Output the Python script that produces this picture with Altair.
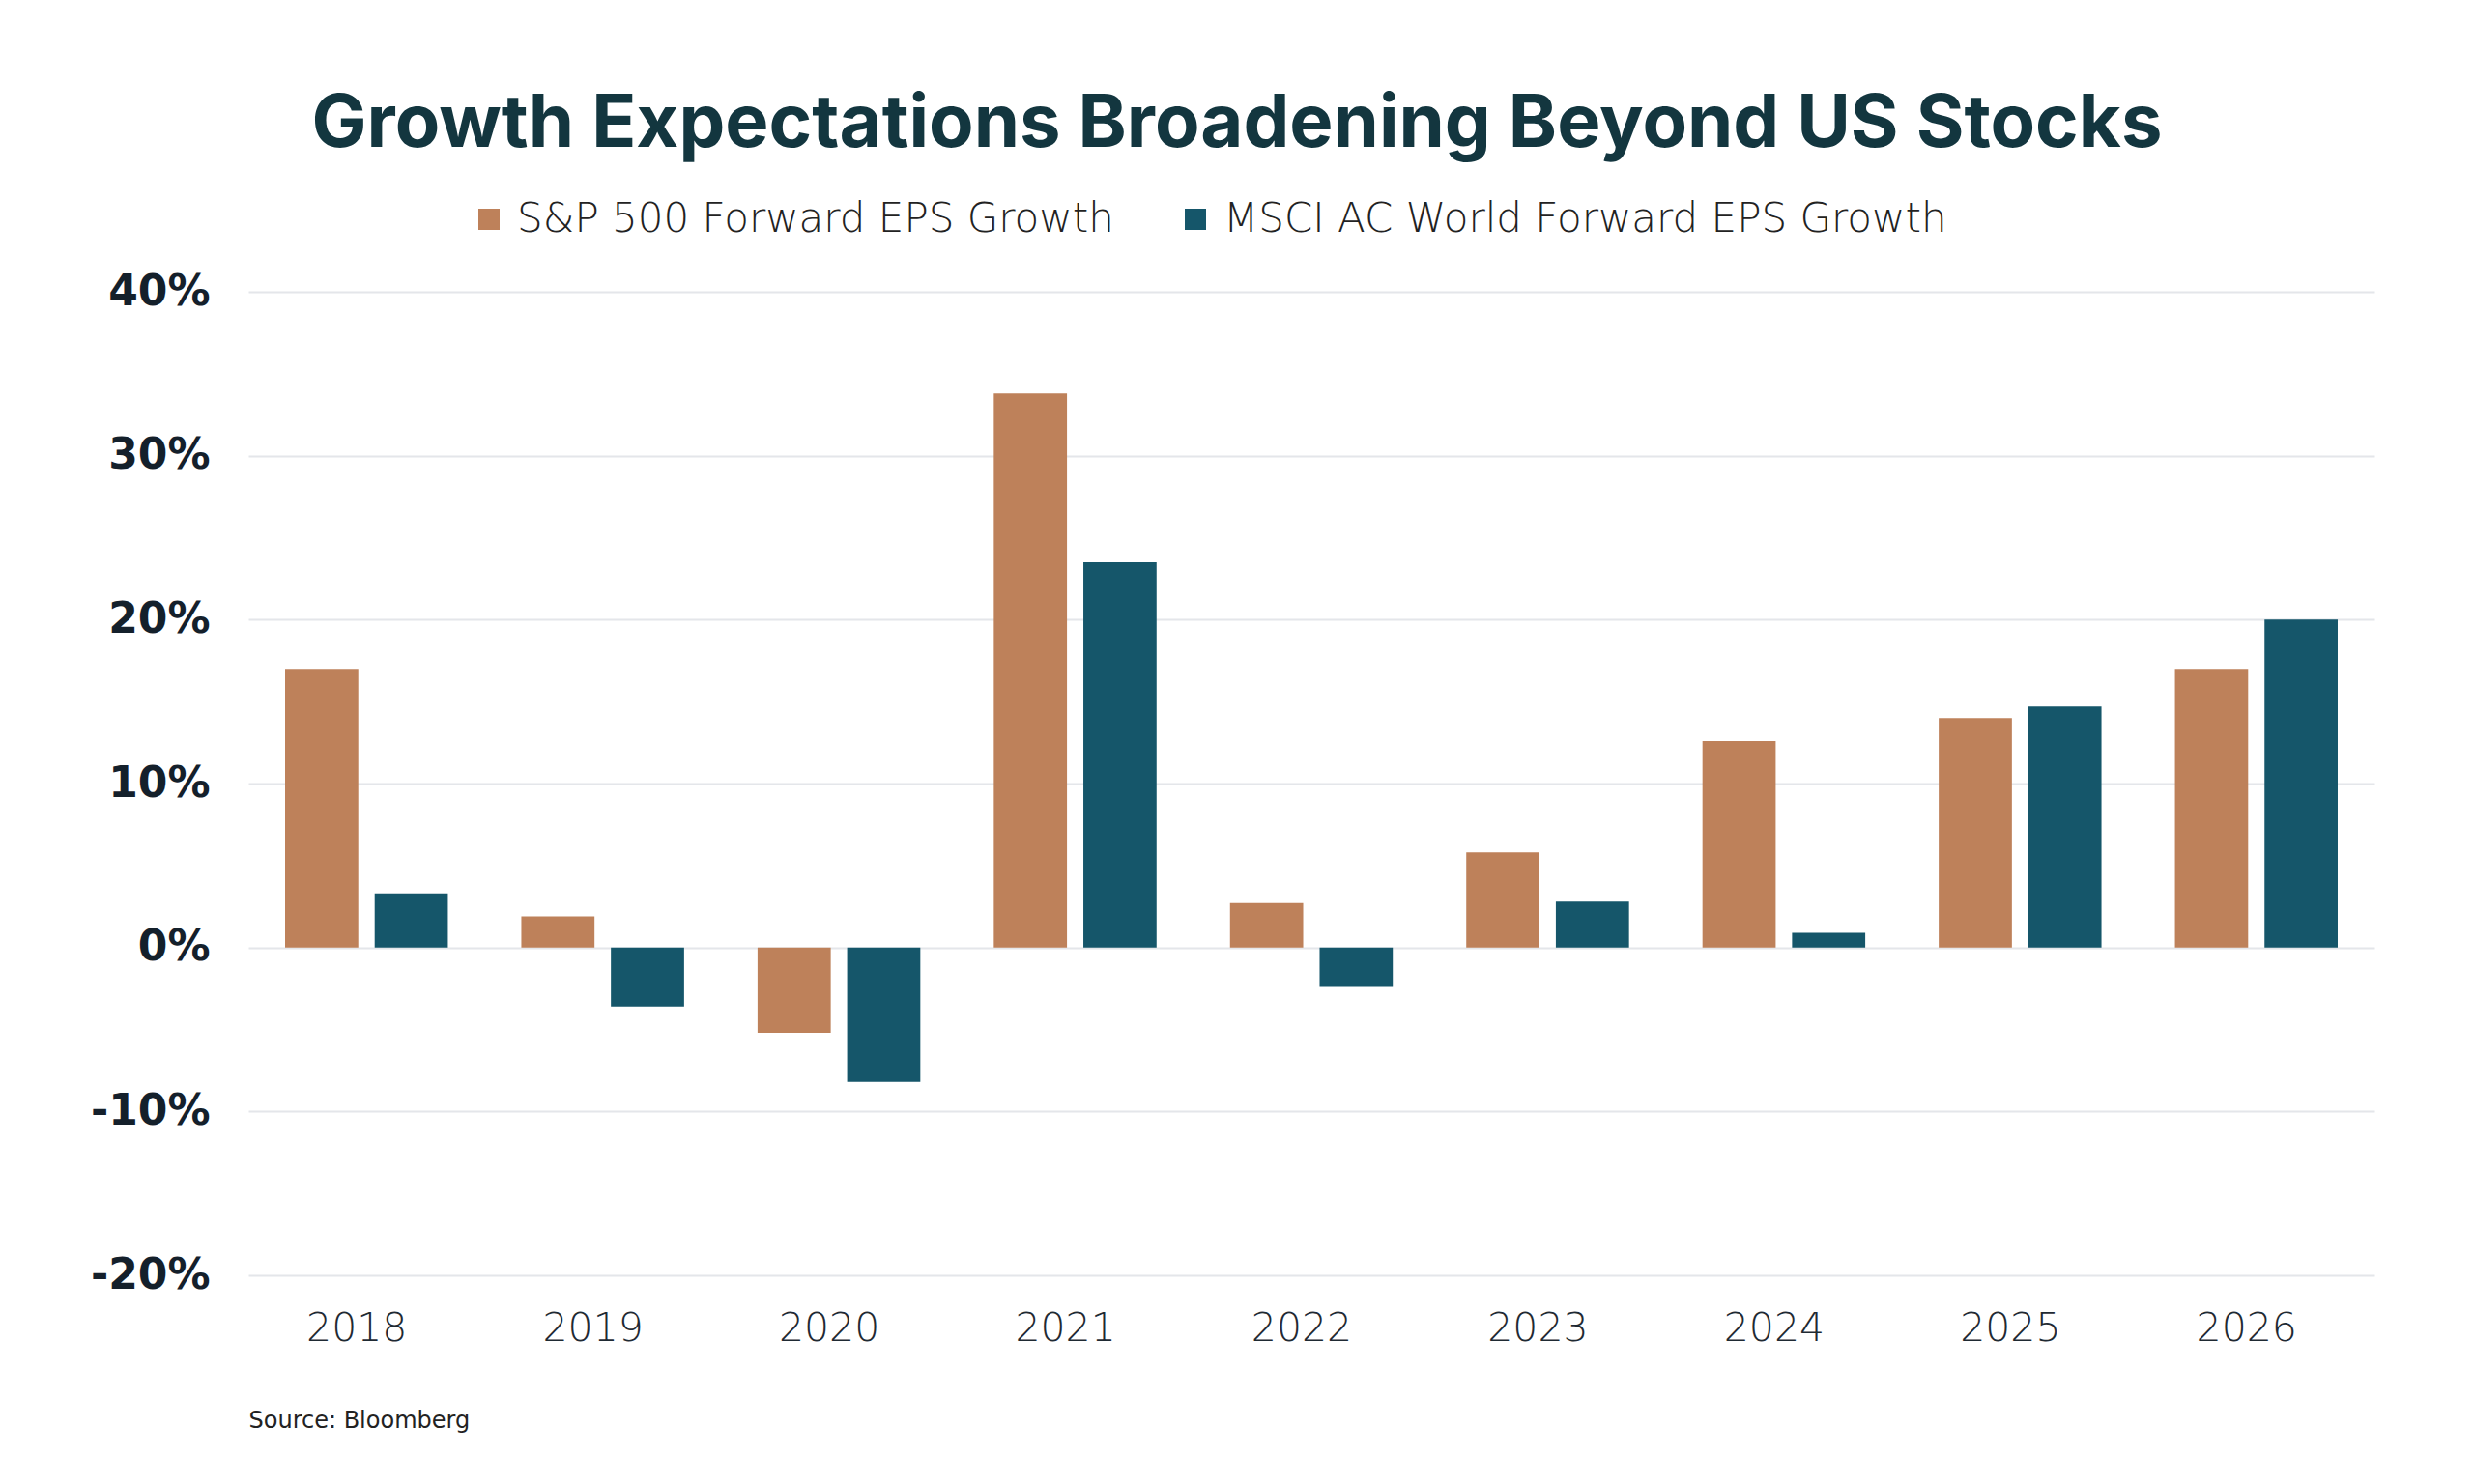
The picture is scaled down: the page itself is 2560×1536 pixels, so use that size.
import altair as alt
import pandas as pd

years = ["2018", "2019", "2020", "2021", "2022", "2023", "2024", "2025", "2026"]
sp500 = [17.0, 1.9, -5.2, 33.8, 2.7, 5.8, 12.6, 14.0, 17.0]
msci = [3.3, -3.6, -8.2, 23.5, -2.4, 2.8, 0.9, 14.7, 20.0]
series = ["S&P 500 Forward EPS Growth", "MSCI AC World Forward EPS Growth"]
colors = ["#BE815A", "#15566A"]
y_ticks = [-0.2, -0.1, 0.0, 0.1, 0.2, 0.3, 0.4]

rows = []
for i, yr in enumerate(years):
    rows.append({"year": yr, "series": series[0], "value": sp500[i] / 100})
    rows.append({"year": yr, "series": series[1], "value": msci[i] / 100})
df = pd.DataFrame(rows)

W, H = 2200, 1018
PAD = {"left": 257, "top": 302, "right": 2560 - 257 - W, "bottom": 1536 - 302 - H}

chart = alt.Chart(df).mark_bar().encode(
    x=alt.X(
        "year:N", sort=years,
        scale=alt.Scale(paddingInner=0, paddingOuter=0),
        axis=alt.Axis(
            title="Source: Bloomberg", labelAngle=0, labelFont="DejaVu Sans",
            labelFontSize=41, labelFontWeight=300, labelColor="#1f2a33",
            labelPadding=35, labelOffset=-10, ticks=False, domain=False, grid=False,
            titleFont="DejaVu Sans", titleFontSize=24, titleFontWeight="normal",
            titleColor="#222222", titleAnchor="start", titleAlign="left",
            titleBaseline="top", titleX=0, titleY=138,
        ),
    ),
    xOffset=alt.XOffset(
        "series:N", sort=series,
        scale=alt.Scale(paddingInner=0.183, paddingOuter=0.41),
    ),
    y=alt.Y(
        "value:Q",
        scale=alt.Scale(domain=[-0.2, 0.4], nice=False, zero=False),
        axis=alt.Axis(
            title=None, format=".0%", values=y_ticks,
            labelExpr="replace(datum.label, '\u2212', '-')",
            labelFont="DejaVu Sans",
            labelFontSize=44, labelFontWeight="bold", labelColor="#14202b",
            labelPadding=40, ticks=False, domain=False, grid=True,
            gridColor="#e4e6ea", gridWidth=2,
        ),
    ),
    color=alt.Color(
        "series:N", sort=series,
        scale=alt.Scale(domain=series, range=colors),
        legend=alt.Legend(
            title=None, orient="none", legendX=228, legendY=-96,
            direction="horizontal", symbolType="square", symbolSize=484,
            symbolStrokeWidth=0, labelFont="DejaVu Sans", labelFontSize=42,
            labelFontWeight=300, labelColor="#222222", labelOffset=8,
            columnPadding=63, labelLimit=2000, padding=0,
        ),
    ),
).properties(
    width=W,
    height=H,
    padding=PAD,
    background="white",
    autosize=alt.AutoSizeParams(type="none"),
    title=alt.TitleParams(
        "Growth Expectations Broadening Beyond US Stocks",
        font="Inter", fontSize=76, fontWeight=700, color="#13363F",
        anchor="middle", dx=-77, offset=38,
    ),
).configure_view(strokeWidth=0, stroke="transparent")

chart.save("out.html", embed_options={"renderer": "svg", "actions": False})
